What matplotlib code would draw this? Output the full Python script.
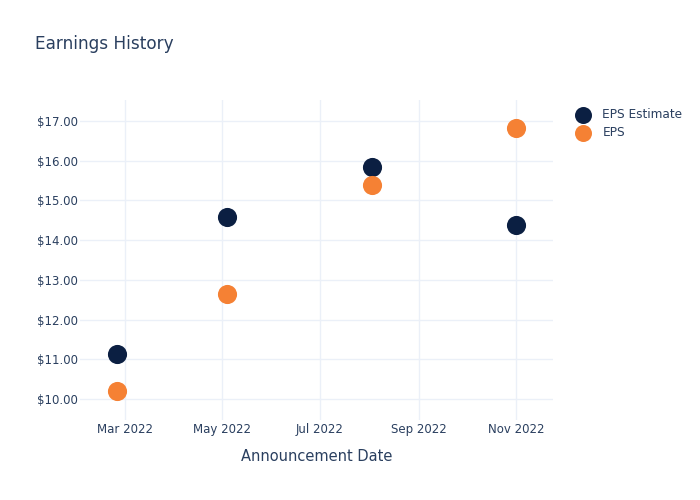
import matplotlib
matplotlib.use("Agg")
import matplotlib.pyplot as plt
import matplotlib.dates as mdates
import numpy as np
import datetime as dt

dates = ["2022-02-24", "2022-05-04", "2022-08-03", "2022-11-01"]
eps_estimate = [11.13, 14.58, 15.84, 14.38]
eps_actual = [10.20, 12.64, 15.39, 16.82]
series_names = ["EPS Estimate", "EPS"]
title = "Earnings History"
xlabel = "Announcement Date"

x = [dt.datetime.strptime(d, "%Y-%m-%d") for d in dates]
txt = "#2a3f5f"
grid = "#ebf0f8"

fig = plt.figure(figsize=(7, 5), dpi=100)
ax = fig.add_axes([80/700, 80/500, (553-80)/700, (420-100)/500])
ax.set_facecolor("white")
for s in ax.spines.values():
    s.set_visible(False)

ax.scatter(x, eps_estimate, s=190, color="#0b1f42", label=series_names[0], zorder=3, linewidths=0)
ax.scatter(x, eps_actual, s=190, color="#f58134", label=series_names[1], zorder=3, linewidths=0)

ax.set_ylim(9.47, 17.53)
ax.set_yticks(np.arange(10, 18, 1))
ax.yaxis.set_major_formatter(matplotlib.ticker.FuncFormatter(lambda v, p: f"${v:.2f}"))
ax.set_xlim(dt.datetime(2022, 2, 1), dt.datetime(2022, 11, 24))
ax.xaxis.set_major_locator(mdates.MonthLocator(bymonth=[3, 5, 7, 9, 11]))
ax.xaxis.set_major_formatter(mdates.DateFormatter("%b %Y"))
ax.grid(True, color=grid, linewidth=1, zorder=0)
ax.set_axisbelow(True)
ax.tick_params(length=0, labelsize=8.5, colors=txt)
ax.tick_params(axis="x", pad=2.5)
ax.tick_params(axis="y", pad=1.5)
ax.set_xlabel(xlabel, fontsize=10.5, color=txt, labelpad=9)

fig.text(35/700, 1 - 44/500, title, fontsize=12.2, color=txt, va="center", ha="left")

leg = ax.legend(loc="upper left", bbox_to_anchor=(1.02, 1.0), frameon=False,
                fontsize=8.7, labelcolor=txt, handletextpad=0.6, labelspacing=0.4,
                borderaxespad=0.3)
for h in leg.legend_handles:
    h.set_sizes([150])

fig.savefig("out.png", dpi=100)
